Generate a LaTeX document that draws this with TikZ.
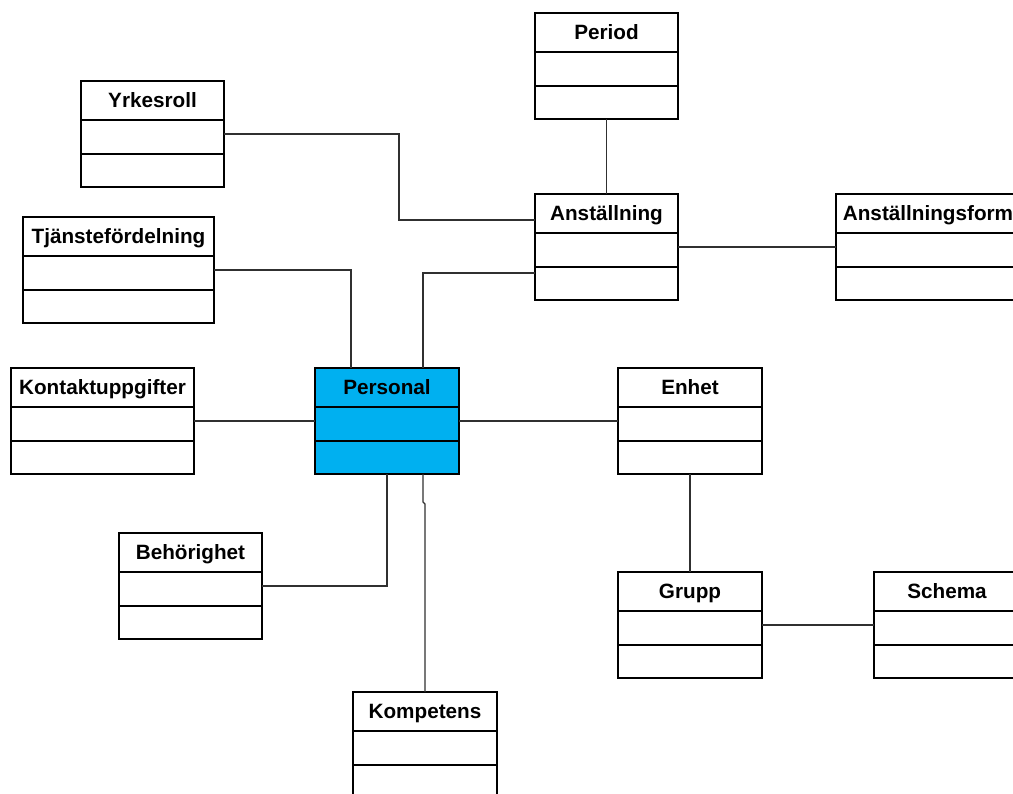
\documentclass[tikz,border=0pt]{standalone}
\usepackage{fontspec}
\setmainfont{Liberation Sans}
\definecolor{persblue}{HTML}{00B0F0}
\definecolor{linegray}{HTML}{303030}
\tikzset{
  clsbox/.style={draw=black, line width=1.8pt, rectangle, minimum height=106pt, inner sep=0pt, outer sep=0pt},
  clsline/.style={draw=black, line width=1.8pt},
  clstitle/.style={font=\fontsize{20.7}{24}\selectfont\bfseries, inner sep=0pt},
  conn/.style={draw=linegray, line width=1.2pt}
}
\newcommand\umlcls[6]{%
  \node[clsbox, fill=#6, minimum width=#4pt, anchor=north west] (#1) at (#2,#3) {};
  \draw[clsline] ([yshift=-39pt]#1.north west) -- ([yshift=-39pt]#1.north east);
  \draw[clsline] ([yshift=-73pt]#1.north west) -- ([yshift=-73pt]#1.north east);
  \node[clstitle, anchor=base] (#1t) at ([yshift=-26.5pt]#1.north) {#5};
}
\begin{document}
\begin{tikzpicture}[x=1pt, y=-1pt]
\useasboundingbox (0,0) rectangle (1013,794);
\clip (0,0) rectangle (1013,794);
\fill[white] (0,0) rectangle (1013,794);
\umlcls{per}{535}{13}{143}{Period}{white}
\umlcls{anst}{535}{194}{143}{Anställning}{white}
\umlcls{af}{836}{194}{184}{Anställningsform}{white}
\umlcls{yrk}{81}{81}{143}{Yrkesroll}{white}
\umlcls{tj}{23}{217}{191}{Tjänstefördelning}{white}
\umlcls{pers}{315}{368}{144}{Personal}{persblue}
\umlcls{kont}{11}{368}{183}{Kontaktuppgifter}{white}
\umlcls{enh}{618}{368}{144}{Enhet}{white}
\umlcls{beh}{119}{533}{143}{Behörighet}{white}
\umlcls{grp}{618}{572}{144}{Grupp}{white}
\umlcls{sch}{874}{572}{146}{Schema}{white}
\umlcls{komp}{353}{692}{144}{Kompetens}{white}
\draw[conn] (per.south) -- (anst.north);
\draw[conn] (yrk.east) -- ++(175,0) |- ([yshift=27pt]anst.west);
\draw[conn] ([yshift=-26pt]anst.west) -| ([xshift=36pt]pers.north);
\draw[conn] (tj.east) -| ([xshift=-36pt]pers.north);
\draw[conn] (anst.east) -- (af.west);
\draw[conn] (kont.east) -- (pers.west);
\draw[conn] (pers.east) -- (enh.west);
\draw[conn] (enh.south) -- (grp.north);
\draw[conn] (grp.east) -- (sch.west);
\draw[conn] (pers.south) |- (beh.east);
\draw[conn] ([xshift=36pt]pers.south) -- ++(0,28) -- ++(2,2) -- (komp.north);
\end{tikzpicture}
\end{document}
